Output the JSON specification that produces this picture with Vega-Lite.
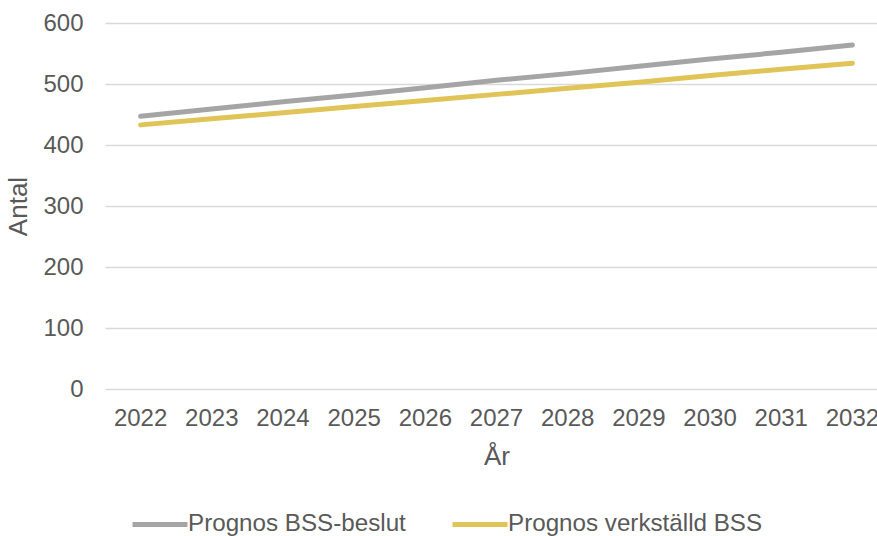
{
  "$schema": "https://vega.github.io/schema/vega-lite/v6.json",
  "autosize": {"type": "none"},
  "padding": {"left": 105, "top": 23, "right": -11, "bottom": 147},
  "width": 783,
  "height": 366,
  "background": "white",
  "config": {
    "view": {"stroke": null},
    "font": "Liberation Sans",
    "axis": {"labelFont": "Liberation Sans", "titleFont": "Liberation Sans", "labelColor": "#595959", "titleColor": "#595959", "labelFontSize": 24, "titleFontSize": 26, "titleFontWeight": "normal"},
    "legend": {"labelFont": "Liberation Sans", "labelFontSize": 24.2, "labelColor": "#595959", "labelLimit": 500}
  },
  "data": {
    "values": [
      {"year": "2022", "serie": "Prognos BSS-beslut", "antal": 447},
      {"year": "2023", "serie": "Prognos BSS-beslut", "antal": 459},
      {"year": "2024", "serie": "Prognos BSS-beslut", "antal": 471},
      {"year": "2025", "serie": "Prognos BSS-beslut", "antal": 482},
      {"year": "2026", "serie": "Prognos BSS-beslut", "antal": 494},
      {"year": "2027", "serie": "Prognos BSS-beslut", "antal": 506},
      {"year": "2028", "serie": "Prognos BSS-beslut", "antal": 517},
      {"year": "2029", "serie": "Prognos BSS-beslut", "antal": 529},
      {"year": "2030", "serie": "Prognos BSS-beslut", "antal": 541},
      {"year": "2031", "serie": "Prognos BSS-beslut", "antal": 552},
      {"year": "2032", "serie": "Prognos BSS-beslut", "antal": 564},
      {"year": "2022", "serie": "Prognos verkställd BSS", "antal": 433},
      {"year": "2023", "serie": "Prognos verkställd BSS", "antal": 443},
      {"year": "2024", "serie": "Prognos verkställd BSS", "antal": 453},
      {"year": "2025", "serie": "Prognos verkställd BSS", "antal": 463},
      {"year": "2026", "serie": "Prognos verkställd BSS", "antal": 473},
      {"year": "2027", "serie": "Prognos verkställd BSS", "antal": 483},
      {"year": "2028", "serie": "Prognos verkställd BSS", "antal": 493},
      {"year": "2029", "serie": "Prognos verkställd BSS", "antal": 503},
      {"year": "2030", "serie": "Prognos verkställd BSS", "antal": 514},
      {"year": "2031", "serie": "Prognos verkställd BSS", "antal": 524},
      {"year": "2032", "serie": "Prognos verkställd BSS", "antal": 534}
    ]
  },
  "mark": {"type": "line", "strokeWidth": 5, "strokeCap": "round", "strokeJoin": "round"},
  "encoding": {
    "x": {
      "field": "year", "type": "ordinal", "title": "År",
      "scale": {"type": "band", "paddingInner": 0, "paddingOuter": 0},
      "axis": {"labelAngle": 0, "ticks": false, "domain": false, "labelPadding": 17, "titlePadding": 13, "grid": false}
    },
    "y": {
      "field": "antal", "type": "quantitative", "title": "Antal",
      "scale": {"domain": [0, 600]},
      "axis": {"values": [0, 100, 200, 300, 400, 500, 600], "ticks": false, "domain": false, "labelPadding": 22, "titlePadding": 11, "grid": true, "gridColor": "#d9d9d9", "gridWidth": 1.5}
    },
    "color": {
      "field": "serie", "type": "nominal", "title": null,
      "scale": {"domain": ["Prognos BSS-beslut", "Prognos verkställd BSS"], "range": ["#a5a5a5", "#e0c457"]},
      "legend": {"orient": "none", "legendX": 25, "legendY": 471, "direction": "horizontal", "symbolType": "stroke", "symbolSize": 3025, "symbolStrokeWidth": 5, "labelOffset": -2, "columnPadding": 36, "padding": 0}
    }
  }
}
